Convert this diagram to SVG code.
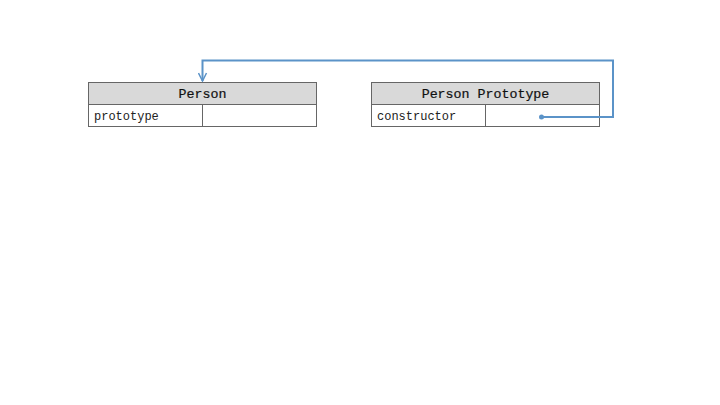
<svg xmlns="http://www.w3.org/2000/svg" width="720" height="405" viewBox="0 0 720 405">
<defs>
<style>
.box{fill:#fff;stroke:#666;stroke-width:1}
.hdr{fill:#d9d9d9;stroke:#666;stroke-width:1}
.ht{font-family:"Liberation Mono","Courier New",monospace;font-size:13.3px;fill:#111;stroke:#111;stroke-width:0.2;text-anchor:middle}
.rt{font-family:"Liberation Mono","Courier New",monospace;font-size:12px;fill:#222}
.conn{fill:none;stroke:#5b93c8;stroke-width:2}
</style>
<marker id="arr" viewBox="0 0 10 10" refX="9" refY="5" markerWidth="10" markerHeight="10" orient="auto" markerUnits="userSpaceOnUse">
<path d="M1,1 L9,5 L1,9" fill="none" stroke="#5b93c8" stroke-width="1.5"/>
</marker>
</defs>
<rect width="720" height="405" fill="#fff"/>
<g id="person">
<rect class="hdr" x="88.5" y="82.5" width="228" height="22"/>
<rect class="box" x="88.5" y="104.5" width="228" height="22"/>
<line x1="202.5" y1="104.5" x2="202.5" y2="126.5" stroke="#666"/>
<text class="ht" x="202.5" y="98">Person</text>
<text class="rt" x="94" y="120">prototype</text>
</g>
<g id="person-prototype">
<rect class="hdr" x="371.5" y="82.5" width="228" height="22"/>
<rect class="box" x="371.5" y="104.5" width="228" height="22"/>
<line x1="485.5" y1="104.5" x2="485.5" y2="126.5" stroke="#666"/>
<text class="ht" x="485.5" y="98">Person Prototype</text>
<text class="rt" x="377" y="120">constructor</text>
</g>
<g id="connectors">
<circle cx="541.5" cy="117" r="2.5" fill="#5b93c8"/>
<path class="conn" d="M541.5,117 H613 V60.5 H202.5 V81" marker-end="url(#arr)"/>
</g>
</svg>
